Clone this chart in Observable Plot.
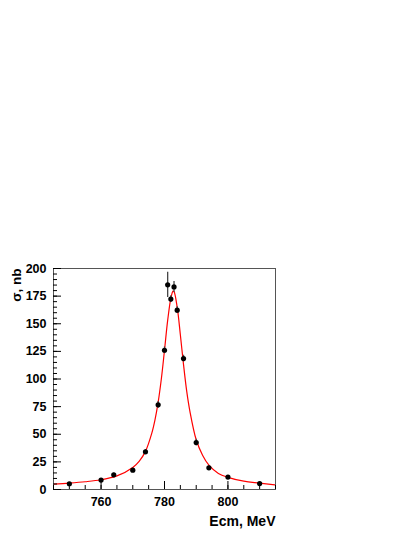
<!DOCTYPE html>
<html>
<head>
<meta charset="utf-8">
<script src="https://cdn.jsdelivr.net/npm/d3@7"></script>
<script src="https://cdn.jsdelivr.net/npm/@observablehq/plot@0.6"></script>
<style>
  html, body { margin: 0; padding: 0; background: #fff; }
</style>
</head>
<body>
<div id="chart"></div>
<script>
// Measured points
const energy = [750, 760, 764, 770, 774, 778, 780, 781, 782, 783, 784, 786, 790, 794, 800, 810];
const sigma  = [5.2, 8.5, 13.3, 17.5, 34.1, 76.6, 126, 185.2, 172.3, 183.3, 162.3, 118.5, 42.5, 19.6, 11.2, 5.4];
const sigmaErr = [1, 1.2, 1.5, 1.5, 2, 3, 3, 11.5, 3, 5, 3, 3, 3, 2, 1.5, 1.2];

// Fit curve
const curveE     = [745, 750, 755, 760, 765, 770, 772, 774, 776, 777, 778, 779, 780, 781, 782, 782.7, 783, 784, 785, 786, 787, 788, 790, 792, 794, 797, 800, 805, 810, 815];
const curveSigma = [4.9, 5.8, 7.0, 8.8, 12.3, 20, 25.5, 34.5, 51, 63, 79, 100, 126, 153, 173, 179.5, 179, 165, 140, 113, 89, 71, 45, 31, 22, 14.5, 11, 7.5, 5.8, 4.2];

// Axis ticks
const xMajor = [760, 780, 800];
const xMinor = d3.range(745, 816, 5);
const yMajor = d3.range(0, 201, 25);
const yMinor = d3.range(0, 201, 5);

const points = energy.map((e, i) => ({e, s: sigma[i], err: sigmaErr[i]}));
const curve = curveE.map((e, i) => ({e, s: curveSigma[i]}));

const font = "'Liberation Sans', Arial, Helvetica, sans-serif";

const chart = Plot.plot({
  width: 415,
  height: 537,
  marginLeft: 53,
  marginRight: 140,
  marginTop: 268,
  marginBottom: 48,
  style: {fontFamily: font, fontWeight: "bold", background: "#fff"},
  x: {domain: [745, 815]},
  y: {domain: [0, 200]},
  marks: [
    Plot.line(curve, {x: "e", y: "s", stroke: "#ff0000", strokeWidth: 1.2, curve: "catmull-rom", clip: true}),
    Plot.ruleX(points, {x: "e", y1: d => d.s - d.err, y2: d => d.s + d.err, stroke: "#444", strokeWidth: 1.3}),
    Plot.dot(points, {x: "e", y: "s", r: 2.6, fill: "#000", stroke: "none"}),
    Plot.frame({stroke: "#555", strokeWidth: 1}),
    // x axis: inward ticks
    Plot.axisX({ticks: xMinor, tickSize: -4, tickFormat: () => "", label: null, stroke: "#000"}),
    Plot.axisX({ticks: xMajor, tickSize: -8, tickFormat: () => "", label: null, stroke: "#000"}),
    Plot.axisX({ticks: xMajor, tickSize: 0, tickPadding: 8, tickFormat: d => String(d), label: null, fontSize: 12.5, fill: "#000"}),
    // y axis
    Plot.axisY({ticks: yMinor, tickSize: -4, tickFormat: () => "", label: null, stroke: "#000"}),
    Plot.axisY({ticks: yMajor, tickSize: -8, tickFormat: () => "", label: null, stroke: "#000"}),
    Plot.axisY({ticks: yMajor, tickSize: 0, tickPadding: 7, tickFormat: d => String(d), label: null, fontSize: 12.5, fill: "#000"}),
    // axis titles
    Plot.text(["Ecm, MeV"], {frameAnchor: "bottom-right", textAnchor: "end", lineAnchor: "bottom", dy: 36, fontSize: 14, fontWeight: "bold", fill: "#000"}),
    Plot.text(["σ, nb"], {frameAnchor: "top-left", textAnchor: "end", rotate: -90, dx: -42, fontSize: 13.5, fontWeight: "bold", fill: "#000"})
  ]
});

document.getElementById("chart").appendChild(chart);
</script>
</body>
</html>
